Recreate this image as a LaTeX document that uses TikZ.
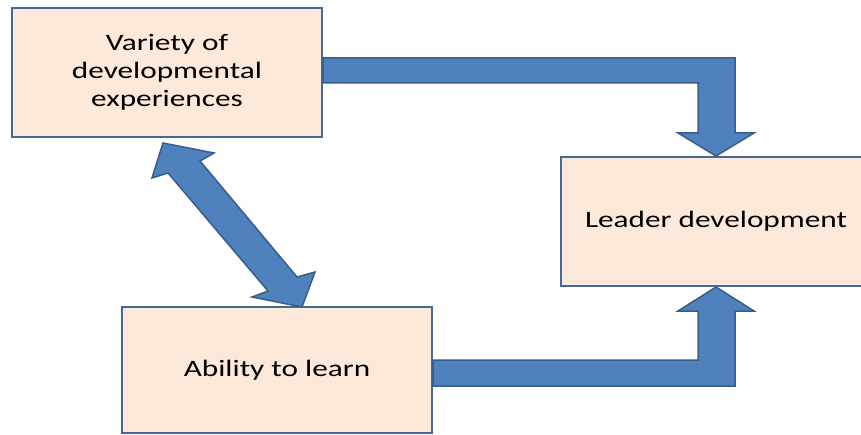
\documentclass[tikz,border=0pt]{standalone}
\usepackage{fontspec}
\setmainfont{Carlito}[FakeStretch=1.33]
\usetikzlibrary{calc}
\definecolor{boxfill}{HTML}{FDE9D9}
\definecolor{boxline}{HTML}{46699C}
\definecolor{arrfill}{HTML}{4F81BD}
\definecolor{arrline}{HTML}{385D8A}
\tikzset{
  box/.style={draw=boxline, line width=2pt, fill=boxfill, rectangle, inner sep=0pt,
    align=center, font=\fontsize{23.5}{28}\selectfont, text=black},
  blockarrow/.style={draw=arrline, line width=1.5pt, fill=arrfill, line join=miter}
}
\begin{document}
\begin{tikzpicture}[x=1pt,y=-1pt]
\useasboundingbox (0,0) rectangle (861,435);
\clip (0,0) rectangle (861,435);
\node[box, minimum width=310pt, minimum height=129pt] (b1) at (167,72.5)
  {Variety of\\developmental\\experiences};
\node[box, minimum width=310pt, minimum height=129pt] (b2) at (716,221.5)
  {Leader development};
\node[box, minimum width=310pt, minimum height=126pt] (b3) at (277,370)
  {Ability to learn};
% top bent arrow
\coordinate (t1) at (b2.north);
\coordinate (a1) at ($(t1)+(19,-98)$);
\coordinate (a2) at ($(t1)+(-18,-73)$);
\draw[blockarrow] (b1.east |- a1) -- (a1) -- ($(t1)+(19,-23)$)
  -- ($(t1)+(38,-23)$) -- (t1) -- ($(t1)+(-38,-23)$) -- ($(t1)+(-18,-23)$)
  -- (a2) -- (b1.east |- a2) -- cycle;
% bottom bent arrow
\coordinate (t2) at (b2.south);
\coordinate (c1) at ($(t2)+(-18,73)$);
\coordinate (c2) at ($(t2)+(19,99)$);
\draw[blockarrow] (b3.east |- c1) -- (c1) -- ($(t2)+(-18,24)$)
  -- ($(t2)+(-38,24)$) -- (t2) -- ($(t2)+(38,24)$) -- ($(t2)+(19,24)$)
  -- (c2) -- (b3.east |- c2) -- cycle;
% double arrow
\coordinate (tA) at ($(b1.south)+(-4,5)$);
\coordinate (tB) at ($(b3.north)+(25,1)$);
\draw[blockarrow] (tA) -- ($(tA)+(51,10)$) -- ($(tA)+(37,18)$)
  -- ($(tB)+(-5,-30)$) -- ($(tB)+(13,-35)$) -- (tB) -- ($(tB)+(-50,-10)$)
  -- ($(tB)+(-34,-16)$) -- ($(tA)+(5,30)$) -- ($(tA)+(-11,35)$) -- cycle;
\end{tikzpicture}
\end{document}
